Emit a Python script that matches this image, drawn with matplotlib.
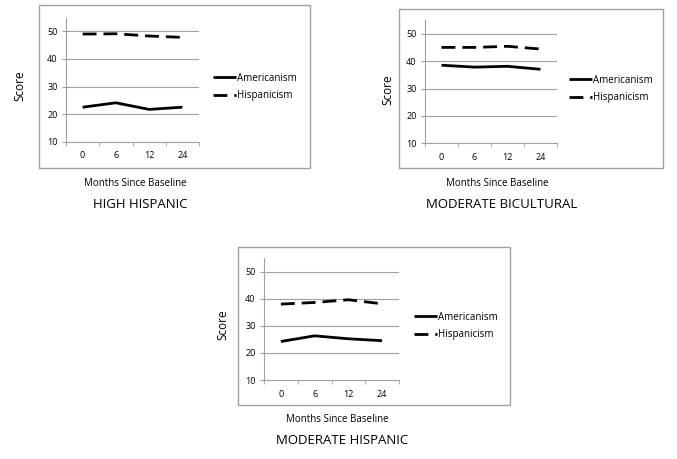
import matplotlib
matplotlib.use("Agg")
import matplotlib.pyplot as plt
from matplotlib.patches import Rectangle

plt.rcParams['font.family'] = ['Open Sans', 'DejaVu Sans']

months = ['0', '6', '12', '24']
series_names = ['Americanism', 'Hispanicism']

high_hisp_amer = [22.5, 24.1, 21.7, 22.5]
high_hisp_hisp = [49.0, 49.1, 48.3, 47.8]

mod_bicult_amer = [38.5, 37.8, 38.1, 37.0]
mod_bicult_hisp = [45.0, 45.0, 45.4, 44.4]

mod_hisp_amer = [24.2, 26.3, 25.2, 24.5]
mod_hisp_hisp = [38.0, 38.6, 39.6, 38.1]

titles = ['HIGH HISPANIC', 'MODERATE BICULTURAL', 'MODERATE HISPANIC']

W, H = 677, 459
fig = plt.figure(figsize=(W / 100, H / 100), dpi=100)
gray = '#a0a0a0'

# pixel layout for each panel: box, axes, legend, labels
panels = [
    dict(amer=high_hisp_amer, hisp=high_hisp_hisp, title=titles[0],
         box=(39, 5, 310, 168), ax=(66, 17.5, 199, 141.7),
         leg=(213, 87), score=(20, 86), months=(135, 183), tpos=(140, 205)),
    dict(amer=mod_bicult_amer, hisp=mod_bicult_hisp, title=titles[1],
         box=(399, 9, 663, 168), ax=(425, 20, 557, 143.3),
         leg=(569, 89), score=(388, 90), months=(497, 184), tpos=(502, 204)),
    dict(amer=mod_hisp_amer, hisp=mod_hisp_hisp, title=titles[2],
         box=(238, 247, 510, 405), ax=(264, 258, 399, 380),
         leg=(414, 326), score=(223, 325), months=(337, 419), tpos=(342, 440)),
]

x = range(len(months))

for p in panels:
    bx0, by0, bx1, by1 = p['box']
    fig.patches.append(Rectangle((bx0 / W, 1 - by1 / H), (bx1 - bx0) / W, (by1 - by0) / H,
                                 transform=fig.transFigure, fill=False,
                                 edgecolor=gray, linewidth=1.0))
    ax0, ay0, ax1, ay1 = p['ax']
    ax = fig.add_axes([ax0 / W, 1 - ay1 / H, (ax1 - ax0) / W, (ay1 - ay0) / H])
    ax.patch.set_alpha(0)
    la, = ax.plot(x, p['amer'], color='black', lw=2.0, solid_capstyle='butt')
    lh, = ax.plot(x, p['hisp'], color='black', lw=2.0, dashes=(5, 2.5))
    ax.set_xlim(-0.5, 3.5)
    ax.set_ylim(10, 55)
    ax.set_yticks([10, 20, 30, 40, 50])
    for v in [20, 30, 40, 50]:
        ax.axhline(v, color=gray, lw=0.8, zorder=0)
    ax.set_xticks([0, 1, 2, 3])
    ax.set_xticklabels(months)
    ax.set_xticks([-0.5, 0.5, 1.5, 2.5, 3.5], minor=True)
    ax.tick_params(axis='x', which='major', length=0, labelsize=6.5, pad=7)
    ax.tick_params(axis='x', which='minor', length=3, color=gray, direction='out')
    ax.tick_params(axis='y', length=3, color=gray, labelsize=6.5, pad=3)
    for s in ['top', 'right']:
        ax.spines[s].set_visible(False)
    for s in ['left', 'bottom']:
        ax.spines[s].set_color(gray)
        ax.spines[s].set_linewidth(0.8)

    lx, ly = p['leg']
    ax.legend([la, lh], series_names, loc='center left',
              bbox_to_anchor=(lx / W, 1 - ly / H), bbox_transform=fig.transFigure,
              frameon=False, fontsize=7, handlelength=2.4, handletextpad=0.1,
              labelspacing=0.7, borderpad=0, borderaxespad=0)

    sx, sy = p['score']
    fig.text(sx / W, 1 - sy / H, 'Score', rotation=90, ha='center', va='center', fontsize=8.5)
    mx, my = p['months']
    fig.text(mx / W, 1 - my / H, 'Months Since Baseline', ha='center', va='center', fontsize=7)
    tx, ty = p['tpos']
    fig.text(tx / W, 1 - ty / H, p['title'], ha='center', va='center', fontsize=9.5)

fig.savefig('out.png', dpi=100)
